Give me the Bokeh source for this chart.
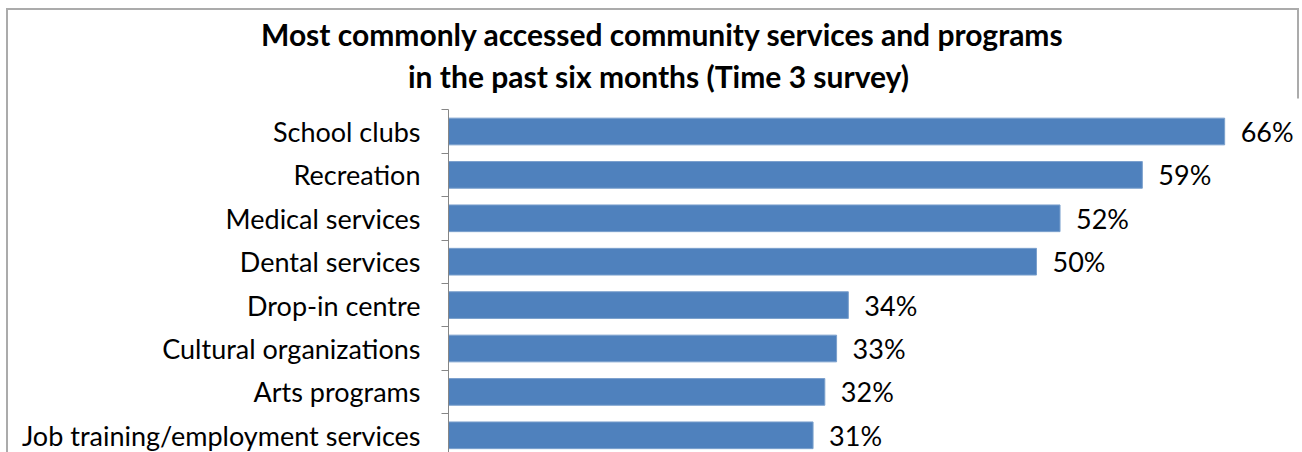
from bokeh.plotting import figure
from bokeh.models import Range1d, FixedTicker, Title, ColumnDataSource
from bokeh.core.properties import value
from bokeh.embed import file_html
from bokeh.resources import INLINE

categories = ["School clubs", "Recreation", "Medical services", "Dental services",
              "Drop-in centre", "Cultural organizations", "Arts programs",
              "Job training/employment services"]
values = [66, 59, 52, 50, 34, 33, 32, 31]
value_labels = ["66%", "59%", "52%", "50%", "34%", "33%", "32%", "31%"]
title_lines = ["Most commonly accessed community services and programs",
               "in the past six months (Time 3 survey)"]

FONT = "Lato"
W, H = 1302, 452
FRAME_LEFT = 448
FRAME_TOP = 98          # top of the plotting frame (px)
AXIS_TOP = 109.3        # where the category axis starts (px)
ROW = 43.4
n = len(categories)
y_top = -0.5 - (AXIS_TOP - FRAME_TOP) / ROW
y_bottom = -0.5 + (H - AXIS_TOP) / ROW
frame_w = W - 3 - FRAME_LEFT
x_end = frame_w / 11.76

p = figure(width=W, height=H, output_backend="svg", toolbar_location=None,
           x_range=Range1d(0, x_end), y_range=Range1d(y_bottom, y_top),
           min_border_left=FRAME_LEFT, min_border_right=3,
           min_border_top=FRAME_TOP, min_border_bottom=0,
           x_axis_location=None)
p.grid.visible = False
p.outline_line_color = None
p.background_fill_color = "white"
p.border_fill_color = None

ys = list(range(n))
src = ColumnDataSource(dict(y=ys, v=values, lab=value_labels))
p.hbar(y="y", right="v", left=0, height=0.615, source=src,
       fill_color="#4F81BD", line_color="#7BA0CD", line_width=1)
p.text(x="v", y="y", text="lab", source=src, x_offset=16,
       text_font=value(FONT), text_font_size="27px", text_color="black",
       text_align="left", text_baseline="middle")

ax = p.yaxis[0]
ax.bounds = (-0.5, y_bottom)
ax.ticker = FixedTicker(ticks=ys, minor_ticks=[i - 0.5 for i in range(n + 1)])
ax.major_label_overrides = {i: c for i, c in enumerate(categories)}
ax.major_label_text_font = FONT
ax.major_label_text_font_size = "27px"
ax.major_label_text_color = "black"
ax.major_tick_line_color = None
ax.major_tick_out = 7
ax.major_tick_in = 0
ax.minor_tick_out = 7
ax.minor_tick_in = 0
ax.minor_tick_line_color = "#868686"
ax.axis_line_color = "#868686"
ax.major_label_standoff = 21

# two-line title (second line added first: nearest to the frame)
offsets = [260.5 - FRAME_LEFT, 407.5 - FRAME_LEFT]
standoffs = [0, 9]
for txt, off, so in reversed(list(zip(title_lines, offsets, standoffs))):
    p.add_layout(Title(text=txt, align="left", offset=off, standoff=so,
                       text_font=FONT, text_font_style="bold",
                       text_font_size="30px", text_color="black"), "above")

# chart border (drawn behind the transparent canvas border area)
g = "linear-gradient(#ABABAB,#ABABAB)"
p.styles = {
    "background-color": "white",
    "background-image": ", ".join([g, g, g]),
    "background-size": "1292px 2px, 2px 460px, 2px 460px",
    "background-position": "7px 8px, 6px 8px, 1297px 8px",
    "background-repeat": "no-repeat",
}

open("out.html", "w").write(file_html(p, INLINE))
